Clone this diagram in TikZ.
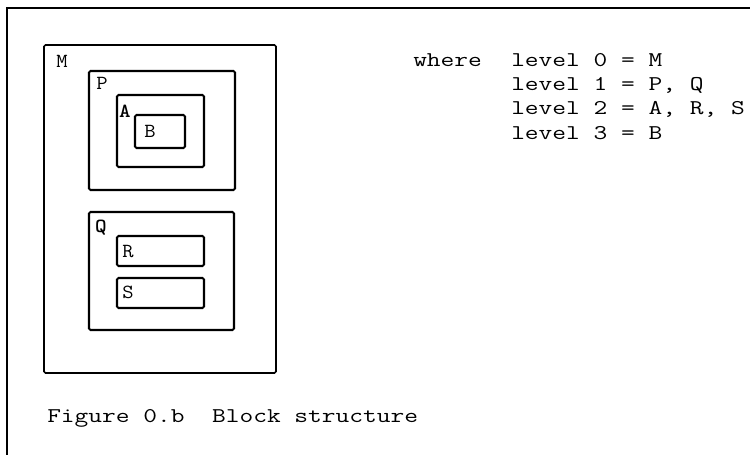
\documentclass[tikz,border=0pt]{standalone}
\begin{document}
\begin{tikzpicture}[x=1pt,y=1pt,
  blk/.style={line width=2.1pt,rounded corners=1.5pt},
  tag/.style={font=\ttfamily\fontsize{20}{24}\selectfont,xscale=1.1,inner sep=0pt},
  txt/.style={font=\ttfamily\fontsize{21}{24}\selectfont,xscale=1.27,inner sep=0pt,anchor=base west}]
\useasboundingbox (0,0) rectangle (750,457);

% page frame
\draw [line width=2.4pt] (7,2) -- (7,449) -- (750,449);

% blocks
\draw [blk,line width=1.7pt] (44,84) rectangle (276,412);
\draw [blk] (89,267) rectangle (235,386);
\draw [blk] (117,290) rectangle (204,362);
\draw [blk] (135,309) rectangle (185,342);
\draw [blk] (89,127) rectangle (234,245);
\draw [blk] (117,191) rectangle (204,221);
\draw [blk] (117,149) rectangle (204,179);

\node [tag] (lm) at (62,396) {M};
\node [tag] (lp) at (102,374) {P};
\node [tag] (la) at (125,346) {\bfseries A};
\node [tag] (lb) at (150,326) {B};
\node [tag] (lq) at (101,229) {\bfseries Q};
\node [tag] (lr) at (128,205) {R};
\node [tag] (ls) at (128,165) {S};

% legend
\node [txt] (where) at (413,390) {where};
\node [txt] (lev0) at (511,390) {level 0 = M};
\node [txt] (lev1) at (511,366) {level 1 = P, Q};
\node [txt] (lev2) at (511,342) {level 2 = A, R, S};
\node [txt] (lev3) at (511,317) {level 3 = B};

\node [txt] (cap) at (47,34) {Figure 0.b\ \ Block structure};

\end{tikzpicture}
\end{document}
